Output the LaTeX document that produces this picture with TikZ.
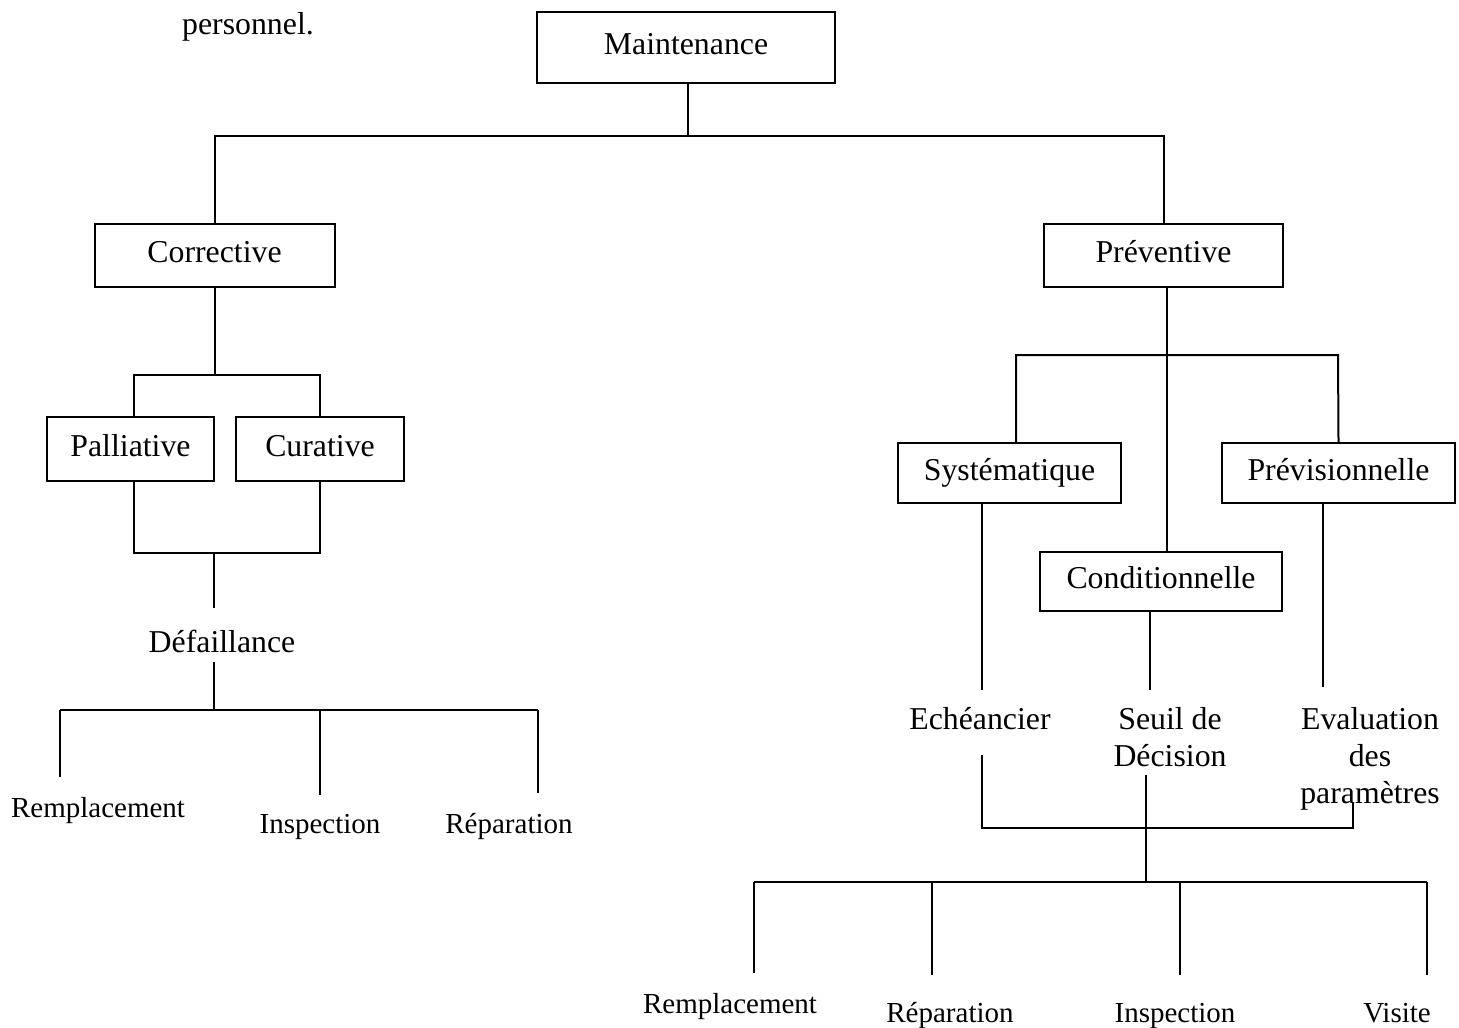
\documentclass[tikz,border=0pt]{standalone}
\usepackage{fontspec}
\setmainfont{Liberation Serif}

\tikzset{
  box/.style={draw,font=\fontsize{15.9}{18.5}\selectfont,text height=0.85em,text depth=0.13em,inner sep=0pt},
  lab/.style={font=\fontsize{15.9}{18.5}\selectfont,align=center,inner sep=0pt,anchor=base},
  leaf/.style={font=\fontsize{14.5}{17}\selectfont,inner sep=0pt,anchor=base},
}

\begin{document}
\begin{tikzpicture}[x=0.5pt,y=-0.5pt,line width=1pt]
        \useasboundingbox (0,0) rectangle (1459,1027);

        % text left over from the page
        \node[lab] (pers) at (248,35) {personnel.};

        % draw the boxes
        \node[box,minimum width=149pt,minimum height=35.5pt] (maint) at (686,47.5) {Maintenance};
        \node[box,minimum width=120pt,minimum height=31.5pt] (corr) at (214.5,255.5) {Corrective};
        \node[box,minimum width=119.5pt,minimum height=31.5pt] (prev) at (1163.5,255.5) {Préventive};
        \node[box,minimum width=83.5pt,minimum height=32pt] (pall) at (130.5,449) {Palliative};
        \node[box,minimum width=84pt,minimum height=32pt] (cura) at (320,449) {Curative};
        \node[box,minimum width=111.5pt,minimum height=30pt] (syst) at (1009.5,473) {Systématique};
        \node[box,minimum width=116.5pt,minimum height=30pt] (previs) at (1338.5,473) {Prévisionnelle};
        \node[box,minimum width=121pt,minimum height=29.5pt] (cond) at (1161,581.5) {Conditionnelle};

        % top level
        \coordinate (top) at (688,136);
        \draw (maint.south -| top) -- (top);
        \draw (corr.north) |- (top) -| (prev.north);

        % corrective branch
        \coordinate (cl) at (134,375);
        \coordinate (cr) at (320,375);
        \draw (corr.south) -- (corr.south |- cl);
        \draw (cl |- pall.north) -- (cl) -- (cr) -- (cura.north);
        \coordinate (fl) at (134,553);
        \coordinate (fm) at (214,553);
        \coordinate (fr) at (320,553);
        \draw (cl |- pall.south) -- (fl) -- (fr) -- (cura.south);
        \coordinate (f1) at (214,608);
        \draw (fm) -- (f1);

        \node[lab] (defa) at (222,652) {Défaillance};
        \coordinate (f2) at (214,662);
        \coordinate (fb) at (214,710);
        \draw (f2) -- (fb);
        \coordinate (gl) at (60,710);
        \coordinate (gr) at (538,710);
        \draw (gl) -- (gr);

        %draw the corrective actions
        \foreach \i/\lx/\le/\tx/\ty/\txt in {
            % line x, line end, text x, text baseline
            1/60/777/98/817/Remplacement,
            2/320/795/320/833/Inspection,
            3/538/793/509/833/Réparation} {
                \coordinate (ga\i) at (\lx,710);
                \coordinate (gb\i) at (\lx,\le);
                \draw (ga\i) -- (gb\i);
                \node[leaf] (cact\i) at (\tx,\ty) {\txt};
        }

        % preventive branch
        \coordinate (pl) at (1016,355);
        \coordinate (pr) at (1338,355);
        \draw (prev.south -| cond.north) ++(6,0) coordinate (pt) -- (pt |- cond.north);
        \draw (pl |- syst.north) -- (pl) -- (pr) -- (previs.north);

        % base of a block of lines is its last line
        \node[lab] (ech) at (980,729) {Echéancier};
        \node[lab] (seuil) at (1170,766) {Seuil de\\Décision};
        \node[lab] (eval) at (1370,803) {Evaluation\\des\\paramètres};

        \coordinate (s1) at (982,690);
        \coordinate (c1) at (1150,690);
        \coordinate (v1) at (1323,687);
        \draw (s1 |- syst.south) -- (s1);
        \draw (c1 |- cond.south) -- (c1);
        \draw (v1 |- previs.south) -- (v1);

        \coordinate (s2) at (982,755);
        \coordinate (v2) at (1353,803);
        \coordinate (hl) at (982,828);
        \coordinate (hr) at (1353,828);
        \draw (s2) -- (hl) -- (hr) -- (v2);
        \coordinate (c2) at (1146,775);
        \coordinate (hb) at (1146,882);
        \draw (c2) -- (hb);
        \coordinate (kl) at (754,882);
        \coordinate (kr) at (1427,882);
        \draw (kl) -- (kr);

        %draw the preventive actions
        \foreach \i/\lx/\le/\tx/\ty/\txt in {
            1/754/973/730/1013/Remplacement,
            2/932/975/950/1022/Réparation,
            3/1180/975/1175/1022/Inspection,
            4/1427/975/1397/1022/Visite} {
                \coordinate (ka\i) at (\lx,882);
                \coordinate (kb\i) at (\lx,\le);
                \draw (ka\i) -- (kb\i);
                \node[leaf] (pact\i) at (\tx,\ty) {\txt};
        }
\end{tikzpicture}
\end{document}
